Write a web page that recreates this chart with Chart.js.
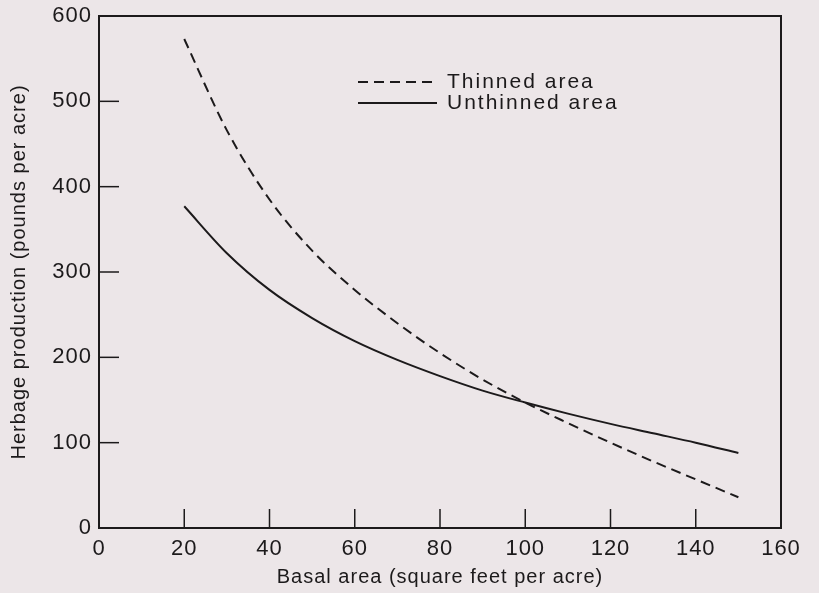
<!DOCTYPE html>
<html>
<head>
<meta charset="utf-8">
<script src="https://cdn.jsdelivr.net/npm/chart.js@4/dist/chart.umd.min.js"></script>
<style>
  body { margin: 0; background: #ece6e8; }
  canvas { display: block; }
</style>
</head>
<body>
<canvas id="grafico" width="819" height="593"></canvas>
<script>
// valores
const basalArea = [20, 30, 40, 50, 60, 70, 80, 90, 100, 110, 120, 130, 140, 150];
const thinned = [573, 466, 385, 325, 279, 240, 205, 174, 147, 123, 100, 78, 57, 36];
const unthinned = [377, 322, 279, 246, 219, 197, 178, 161, 147, 134, 122, 111, 100, 88];
const xTicks = [0, 20, 40, 60, 80, 100, 120, 140, 160];
const yTicks = [0, 100, 200, 300, 400, 500, 600];
const seriesLabels = ['Thinned area', 'Unthinned area'];

const ink = '#1c1a1b';
const fonte = '"Liberation Sans", Arial, sans-serif';

function pares(xs, ys) {
    return xs.map((x, i) => ({ x: x, y: ys[i] }));
}

// moldura + ticks para dentro + legenda
const molduraPlugin = {
    id: 'molduraPlugin',
    beforeDraw: (chart) => {
        chart.ctx.letterSpacing = '1px';
    },
    afterDraw: (chart) => {
        const { ctx, chartArea: { top, bottom, left, right }, scales: { x, y } } = chart;
        ctx.save();
        ctx.strokeStyle = ink;
        ctx.lineWidth = 2;
        ctx.strokeRect(left, top, right - left, bottom - top);

        ctx.lineWidth = 1.5;
        yTicks.slice(1, -1).forEach((v) => {
            const py = y.getPixelForValue(v);
            ctx.beginPath();
            ctx.moveTo(left, py);
            ctx.lineTo(left + 20, py);
            ctx.stroke();
        });
        xTicks.slice(1, -1).forEach((v) => {
            const px = x.getPixelForValue(v);
            ctx.beginPath();
            ctx.moveTo(px, bottom);
            ctx.lineTo(px, bottom - 19);
            ctx.stroke();
        });

        // legenda
        const legX = 358, legW = 79;
        const legY = [82, 103];
        chart.data.datasets.forEach((ds, i) => {
            ctx.lineWidth = 2;
            ctx.setLineDash(ds.borderDash || []);
            ctx.beginPath();
            ctx.moveTo(legX, legY[i]);
            ctx.lineTo(legX + legW, legY[i]);
            ctx.stroke();
            ctx.setLineDash([]);
            ctx.fillStyle = ink;
            ctx.font = '21px ' + fonte;
            ctx.letterSpacing = '2px';
            ctx.textBaseline = 'middle';
            ctx.fillText(ds.label, legX + legW + 10, legY[i]);
        });
        ctx.restore();
    }
};

const config = {
    type: 'line',
    data: {
        datasets: [{
            label: seriesLabels[0],
            data: pares(basalArea, thinned),
            borderColor: ink,
            borderWidth: 2,
            borderDash: [10, 6],
            pointRadius: 0,
            fill: false,
            cubicInterpolationMode: 'monotone'
        }, {
            label: seriesLabels[1],
            data: pares(basalArea, unthinned),
            borderColor: ink,
            borderWidth: 2,
            pointRadius: 0,
            fill: false,
            cubicInterpolationMode: 'monotone'
        }]
    },
    options: {
        responsive: false,
        animation: false,
        devicePixelRatio: 1,
        layout: { padding: { top: 16, right: 38, left: 0, bottom: 0 } },
        plugins: {
            legend: { display: false },
            tooltip: { enabled: false }
        },
        scales: {
            x: {
                type: 'linear',
                min: 0,
                max: 160,
                afterFit: (s) => { s.height = 65; },
                afterBuildTicks: (s) => { s.ticks = xTicks.map(v => ({ value: v })); },
                grid: { display: false, drawTicks: false },
                border: { display: false },
                ticks: { color: ink, font: { family: fonte, size: 22 }, padding: 8, maxRotation: 0 },
                title: {
                    display: true,
                    text: 'Basal area (square feet per acre)',
                    color: ink,
                    font: { family: fonte, size: 20 },
                    padding: { top: 0, bottom: 4 }
                }
            },
            y: {
                min: 0,
                max: 600,
                afterFit: (s) => { s.width = 99; s.paddingTop = 0; s.paddingBottom = 0; },
                afterBuildTicks: (s) => { s.ticks = yTicks.map(v => ({ value: v })); },
                grid: { display: false, drawTicks: false },
                border: { display: false },
                ticks: { color: ink, font: { family: fonte, size: 22, lineHeight: 1 }, padding: 7 },
                title: {
                    display: true,
                    text: 'Herbage production (pounds per acre)',
                    color: ink,
                    font: { family: fonte, size: 20 },
                    padding: { top: 7, bottom: 0 }
                }
            }
        }
    },
    plugins: [molduraPlugin]
};

const myChart = new Chart('grafico', config);
</script>
</body>
</html>
